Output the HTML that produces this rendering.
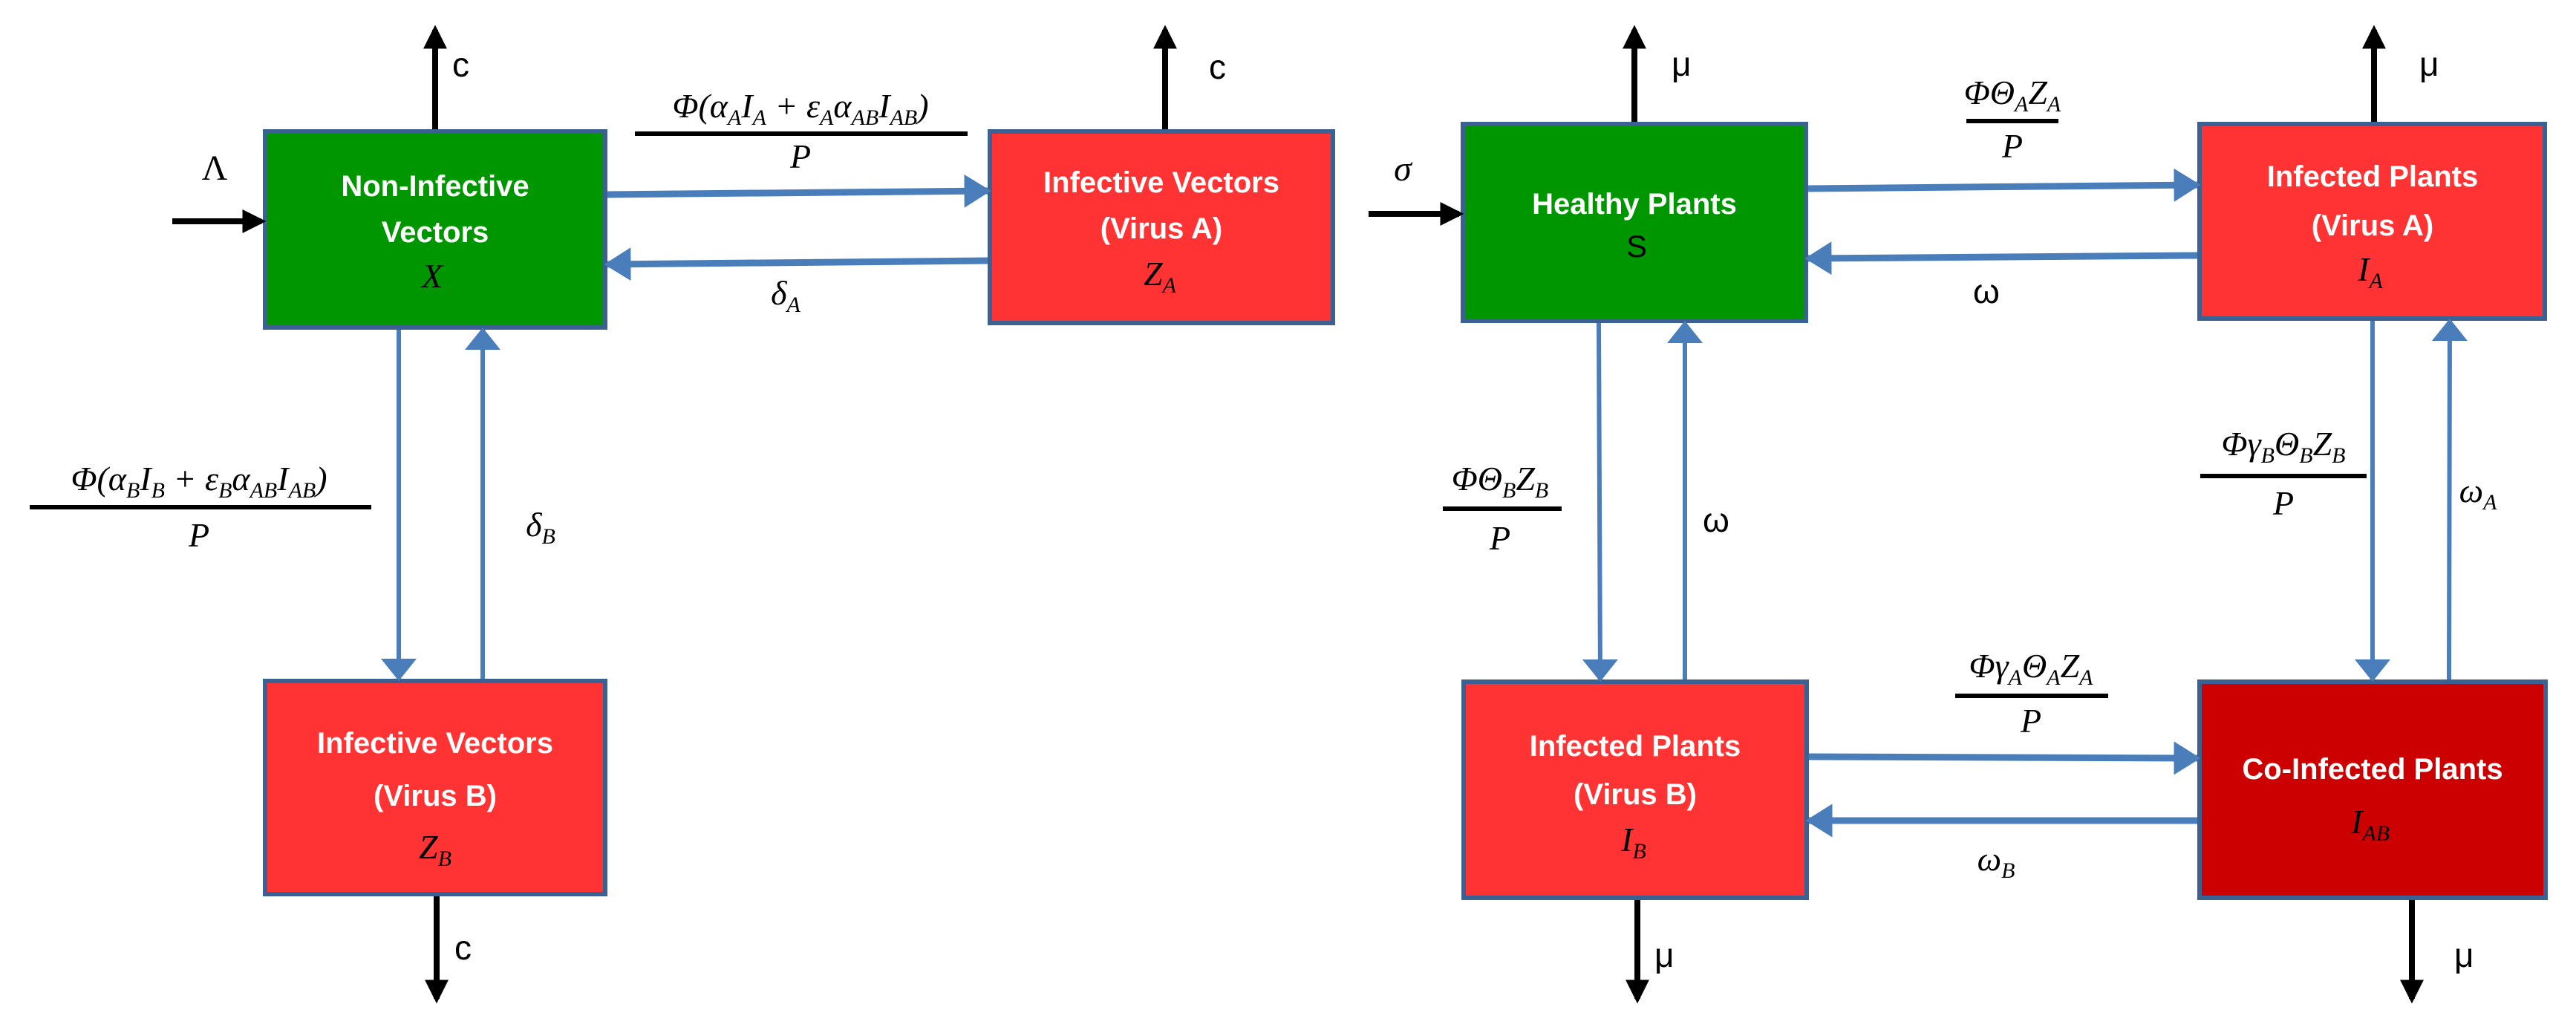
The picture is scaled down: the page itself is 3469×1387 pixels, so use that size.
<!DOCTYPE html>
<html><head><meta charset="utf-8"><style>
html,body{margin:0;padding:0;background:#fff}
svg{display:block}
.bt{font-family:"Liberation Sans",sans-serif;font-weight:bold;font-size:40px;fill:#fff;text-anchor:middle}
.m{font-family:"Liberation Serif",serif;font-style:italic;font-size:46px;fill:#000;text-anchor:middle}
.mb{font-family:"Liberation Serif",serif;font-style:italic;font-size:48px;fill:#000;text-anchor:middle}
.s{font-family:"Liberation Sans",sans-serif;font-size:46px;fill:#000}
.sub{font-size:30px}
</style></head><body>
<svg width="3469" height="1387" viewBox="0 0 3469 1387" xmlns="http://www.w3.org/2000/svg">
<defs>
<marker id="ak" markerWidth="4" markerHeight="4" refX="3.2" refY="2" orient="auto" markerUnits="strokeWidth"><path d="M0,0 L4,2 L0,4 z" fill="#000"/></marker>
<marker id="ab" markerWidth="4" markerHeight="5" refX="3.5" refY="2.5" orient="auto" markerUnits="strokeWidth"><path d="M0,0 L4,2.5 L0,5 z" fill="#4a7ebb"/></marker>
<marker id="ab2" markerWidth="5" markerHeight="8" refX="4.5" refY="4" orient="auto" markerUnits="strokeWidth"><path d="M0,0 L5,4 L0,8 z" fill="#4a7ebb"/></marker>
</defs>
<g stroke="#3b6192" stroke-width="6">
<rect x="357" y="177" width="458" height="264" fill="#009600"/>
<rect x="1333" y="177" width="462" height="258" fill="#ff3333"/>
<rect x="357" y="917" width="458" height="287" fill="#ff3333"/>
<rect x="1970" y="167" width="462" height="265" fill="#009600"/>
<rect x="2962" y="167" width="465" height="262" fill="#ff3333"/>
<rect x="1971" y="918" width="462" height="291" fill="#ff3333"/>
<rect x="2962" y="918" width="466" height="291" fill="#cc0000"/>
</g>
<!-- black arrows -->
<g stroke="#000" stroke-width="8" fill="none">
<line x1="586" y1="174" x2="586" y2="40" marker-end="url(#ak)"/>
<line x1="1569" y1="174" x2="1569" y2="40" marker-end="url(#ak)"/>
<line x1="588" y1="1207" x2="588" y2="1345" marker-end="url(#ak)"/>
<line x1="232" y1="298" x2="352" y2="298" marker-end="url(#ak)"/>
<line x1="2201" y1="164" x2="2201" y2="40" marker-end="url(#ak)"/>
<line x1="3197" y1="164" x2="3197" y2="40" marker-end="url(#ak)"/>
<line x1="1843" y1="288" x2="1965" y2="288" marker-end="url(#ak)"/>
<line x1="2205" y1="1212" x2="2205" y2="1345" marker-end="url(#ak)"/>
<line x1="3248" y1="1212" x2="3248" y2="1345" marker-end="url(#ak)"/>
</g>
<!-- blue arrows -->
<g stroke="#4a7ebb" fill="none">
<line x1="818" y1="262" x2="1330" y2="257" stroke-width="9" marker-end="url(#ab)"/>
<line x1="1330" y1="351" x2="818" y2="356" stroke-width="9" marker-end="url(#ab)"/>
<line x1="2435" y1="254" x2="2959" y2="249" stroke-width="9" marker-end="url(#ab)"/>
<line x1="2959" y1="344" x2="2435" y2="348" stroke-width="9" marker-end="url(#ab)"/>
<line x1="2436" y1="1019" x2="2959" y2="1021" stroke-width="9" marker-end="url(#ab)"/>
<line x1="2959" y1="1105" x2="2436" y2="1105" stroke-width="9" marker-end="url(#ab)"/>
<line x1="537" y1="444" x2="537" y2="914" stroke-width="6" marker-end="url(#ab2)"/>
<line x1="650" y1="914" x2="650" y2="444" stroke-width="6" marker-end="url(#ab2)"/>
<line x1="2153" y1="435" x2="2155" y2="915" stroke-width="6" marker-end="url(#ab2)"/>
<line x1="2269" y1="915" x2="2269" y2="435" stroke-width="6" marker-end="url(#ab2)"/>
<line x1="3195" y1="432" x2="3195" y2="915" stroke-width="6" marker-end="url(#ab2)"/>
<line x1="3298" y1="915" x2="3299" y2="432" stroke-width="6" marker-end="url(#ab2)"/>
</g>
<!-- box text -->
<text class="bt" x="586" y="264">Non-Infective</text>
<text class="bt" x="586" y="326">Vectors</text>
<text class="m" x="582" y="387">X</text>
<text class="bt" x="1564" y="259">Infective Vectors</text>
<text class="bt" x="1564" y="321">(Virus A)</text>
<text class="m" x="1562" y="384">Z<tspan class="sub" dy="10">A</tspan></text>
<text class="bt" x="586" y="1014">Infective Vectors</text>
<text class="bt" x="586" y="1085">(Virus B)</text>
<text class="m" x="586" y="1156">Z<tspan class="sub" dy="10">B</tspan></text>
<text class="bt" x="2201" y="288">Healthy Plants</text>
<text class="s" x="2190" y="346" style="font-size:42px">S</text>
<text class="bt" x="3195" y="251">Infected Plants</text>
<text class="bt" x="3195" y="317">(Virus A)</text>
<text class="m" x="3192" y="378">I<tspan class="sub" dy="10">A</tspan></text>
<text class="bt" x="2202" y="1018">Infected Plants</text>
<text class="bt" x="2202" y="1083">(Virus B)</text>
<text class="m" x="2200" y="1146">I<tspan class="sub" dy="10">B</tspan></text>
<text class="bt" x="3195" y="1049">Co-Infected Plants</text>
<text class="m" x="3192" y="1122">I<tspan class="sub" dy="10">AB</tspan></text>
<!-- rate labels -->
<text class="s" x="609" y="103">c</text>
<text class="s" x="1628" y="106">c</text>
<text class="s" x="612" y="1292">c</text>
<text class="s" x="2251" y="102">μ</text>
<text class="s" x="3258" y="102">μ</text>
<text class="s" x="2228" y="1302">μ</text>
<text class="s" x="3305" y="1302">μ</text>
<text class="mb" x="289" y="242" style="font-style:normal">Λ</text>
<text class="mb" x="1889" y="243">σ</text>
<!-- fractions -->
<g>
<text class="m" x="1078" y="158">Φ(α<tspan class="sub" dy="10">A</tspan><tspan dy="-10">I</tspan><tspan class="sub" dy="10">A</tspan><tspan dy="-10"> + ε</tspan><tspan class="sub" dy="10">A</tspan><tspan dy="-10">α</tspan><tspan class="sub" dy="10">AB</tspan><tspan dy="-10">I</tspan><tspan class="sub" dy="10">AB</tspan><tspan dy="-10">)</tspan></text>
<rect x="855" y="177" width="448" height="6" fill="#000"/>
<text class="m" x="1078" y="226">P</text>
<text class="m" x="1058" y="410">δ<tspan class="sub" dy="10">A</tspan></text>

<text class="m" x="268" y="660">Φ(α<tspan class="sub" dy="10">B</tspan><tspan dy="-10">I</tspan><tspan class="sub" dy="10">B</tspan><tspan dy="-10"> + ε</tspan><tspan class="sub" dy="10">B</tspan><tspan dy="-10">α</tspan><tspan class="sub" dy="10">AB</tspan><tspan dy="-10">I</tspan><tspan class="sub" dy="10">AB</tspan><tspan dy="-10">)</tspan></text>
<rect x="40" y="680" width="460" height="6" fill="#000"/>
<text class="m" x="268" y="736">P</text>
<text class="m" x="728" y="722">δ<tspan class="sub" dy="10">B</tspan></text>

<text class="m" x="2710" y="140">ΦΘ<tspan class="sub" dy="10">A</tspan><tspan dy="-10">Z</tspan><tspan class="sub" dy="10">A</tspan></text>
<rect x="2648" y="160" width="124" height="6" fill="#000"/>
<text class="m" x="2710" y="212">P</text>
<text class="s" x="2657" y="408">ω</text>

<text class="m" x="2020" y="660">ΦΘ<tspan class="sub" dy="10">B</tspan><tspan dy="-10">Z</tspan><tspan class="sub" dy="10">B</tspan></text>
<rect x="1943" y="682" width="160" height="6" fill="#000"/>
<text class="m" x="2020" y="740">P</text>
<text class="s" x="2293" y="716">ω</text>

<text class="m" x="3075" y="613">Φγ<tspan class="sub" dy="10">B</tspan><tspan dy="-10">Θ</tspan><tspan class="sub" dy="10">B</tspan><tspan dy="-10">Z</tspan><tspan class="sub" dy="10">B</tspan></text>
<rect x="2963" y="638" width="224" height="6" fill="#000"/>
<text class="m" x="3075" y="693">P</text>
<text class="m" x="3337" y="676">ω<tspan class="sub" dy="10">A</tspan></text>

<text class="m" x="2735" y="912">Φγ<tspan class="sub" dy="10">A</tspan><tspan dy="-10">Θ</tspan><tspan class="sub" dy="10">A</tspan><tspan dy="-10">Z</tspan><tspan class="sub" dy="10">A</tspan></text>
<rect x="2633" y="934" width="206" height="6" fill="#000"/>
<text class="m" x="2735" y="986">P</text>
<text class="m" x="2688" y="1172">ω<tspan class="sub" dy="10">B</tspan></text>
</g>
</svg>
</body></html>
